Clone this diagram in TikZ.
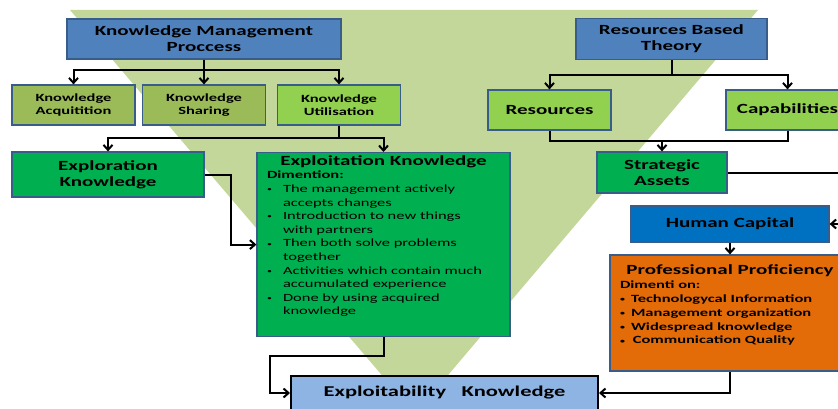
\documentclass[tikz,border=0pt]{standalone}
\usepackage{fontspec}
\setmainfont{Carlito}[FakeStretch=1.5]
\usepackage{xcolor}
\usetikzlibrary{arrows.meta, positioning, calc}

\definecolor{trigreen}{RGB}{196,215,155}
\definecolor{hdblue}{HTML}{4F81BD}
\definecolor{boxline}{HTML}{385D8A}
\definecolor{kmolive}{HTML}{9BBB59}
\definecolor{kmlime}{HTML}{92D050}
\definecolor{kmgreen}{HTML}{00B050}
\definecolor{hcblue}{HTML}{0070C0}
\definecolor{pporange}{HTML}{E36C09}
\definecolor{eakblue}{HTML}{8DB4E2}

\newcommand{\bigtxt}{\fontsize{14}{16}\selectfont\bfseries}
\newcommand{\smalltxt}{\fontsize{11}{13}\selectfont\bfseries}
\newcommand{\dotmark}{\raisebox{0.8pt}{\scalebox{0.6}{\textbullet}}}
\newcommand{\bitem}[2]{\makebox[16pt][l]{\dotmark}#1\par\hspace*{16pt}#2\par}
\newcommand{\pitem}[1]{\makebox[11pt][l]{\dotmark}#1\par}

\begin{document}
\begin{tikzpicture}[
   x=1pt, y=-1pt,
   >={Straight Barb[length=5pt,width=9pt]},
   box/.style={draw=boxline, line width=1.2pt, align=center, inner sep=0pt,
               minimum width=#1, font=\bigtxt},
   link/.style={->, line width=2pt},
]
\path[use as bounding box, clip] (0,0) rectangle (838,409);
% ---- background triangle ----
\fill[trigreen] (70,10) -- (758,10) -- (415,414) -- cycle;

% ---- knowledge side ----
\node[box=274, minimum height=40, fill=hdblue] (kmp) at (204,39)
   {Knowledge Management\\Proccess};
\node[box=123, minimum height=40, fill=kmolive, font=\smalltxt] (acq) at (73.5,105)
   {Knowledge\\Acquitition};
\node[box=123, minimum height=40, fill=kmolive, font=\smalltxt] (shr) at (204,105)
   {Knowledge\\Sharing};
\node[box=123, minimum height=40, fill=kmlime, font=\smalltxt] (utl) at (339,105)
   {Knowledge\\Utilisation};
\node[box=192, minimum height=45, fill=kmgreen] (explor) at (108,174.5)
   {Exploration\\Knowledge};
\node[box=253, minimum height=184, fill=kmgreen, anchor=north] (exploit) at (383.5,152)
   {\parbox[c][184pt][t]{233pt}{\vspace*{3pt}%
   {\centering\fontsize{14}{16}\selectfont\bfseries Exploitation Knowledge\par}
   \vspace{0.5pt}
   {\smalltxt Dimention:\par}
   \fontsize{11}{13.6}\selectfont\mdseries
   \bitem{The management actively}{accepts changes}
   \bitem{Introduction to new things}{with partners}
   \bitem{Then both solve problems}{together}
   \bitem{Activities which contain much}{accumulated experience}
   \bitem{Done by using acquired}{knowledge}}};

% ---- resources side ----
\node[box=191, minimum height=41, fill=hdblue] (rbt) at (671.5,39)
   {Resources Based\\Theory};
\node[box=123, minimum height=40, fill=kmlime] (res) at (549.5,110) {Resources};
\node[box=123, minimum height=40, fill=kmlime] (cap) at (787.5,110) {Capabilities};
\node[box=130, minimum height=41, fill=kmgreen] (sa) at (662,172.5) {Strategic\\Assets};
\node[box=198, minimum height=36, fill=hcblue] (hc) at (730,224) {Human Capital};
\node[box=240, minimum height=116, fill=pporange] (pp) at (730,313)
   {\parbox[c][116pt][t]{220pt}{\vspace*{10pt}%
   {\centering\bigtxt Professional Proficiency\par}
   \fontsize{11}{13.8}\selectfont\bfseries
   Dimenti on:\par
   \pitem{Technologycal Information}
   \pitem{Management organization}
   \pitem{Widespread knowledge}
   \pitem{\,Communication Quality}}};

% ---- result ----
\node[box=307, minimum height=34, fill=eakblue, draw=black, line width=2pt,
      font=\fontsize{15}{17}\selectfont\bfseries] (exab) at (444.5,393)
   {Exploitability\hspace{0.7em} Knowledge};

% ---- arrows ----
\draw[link] (kmp.south) -- ++(0,10) -| (acq.north);
\draw[link] (kmp.south) -- (shr.north);
\draw[link] (kmp.south) -- ++(0,10) -| (utl.north);
\draw[link] (utl.south) -- ++(0,12) -| (explor.north);
\draw[link] (utl.south) -- ++(0,12) -| (exploit.north);
\draw[link] (explor.east) -- ++(26,0) |- (exploit.west);
\draw[link] (exploit.south) -- ++(0,19) -- ++(-114,0) |- (exab.west);
\draw[link] (rbt.south) -- ++(0,15) -| (res.north);
\draw[link] (rbt.south) -- ++(0,15) -| (cap.north);
\draw[line width=2pt] (res.south) -- ++(0,10) coordinate (rcjoin) -| (cap.south);
\draw[link] (sa.north |- rcjoin) -- (sa.north);
\draw[link] (sa.east) -- ++(130,0) |- (hc.east);
\draw[link] (hc.south) -- (pp.north);
\draw[link] (pp.south) |- (exab.east);
\end{tikzpicture}
\end{document}
